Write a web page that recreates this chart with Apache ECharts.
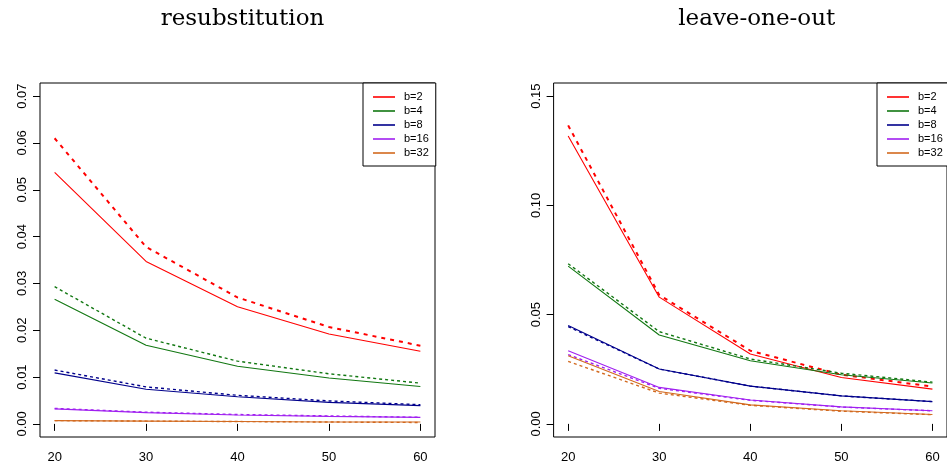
<!DOCTYPE html>
<html>
<head>
<meta charset="utf-8">
<script src="https://cdn.jsdelivr.net/npm/echarts@6/dist/echarts.min.js"></script>
<style>html,body{margin:0;padding:0;background:#fff}#chart{width:947px;height:470px}</style>
</head>
<body>
<div id="chart"></div>
<script>
// ---- data ----
const xVals = [20, 30, 40, 50, 60];
const seriesNames = ['b=2', 'b=4', 'b=8', 'b=16', 'b=32'];
const leftTitle = 'resubstitution';
const rightTitle = 'leave-one-out';
const leftYTicks = [0, 0.01, 0.02, 0.03, 0.04, 0.05, 0.06, 0.07];
const rightYTicks = [0, 0.05, 0.10, 0.15];
const xTicks = [20, 30, 40, 50, 60];

// resubstitution: solid and dashed
const resub_b2   = [0.0537, 0.0347, 0.0250, 0.0192, 0.0155];
const resub_b2d  = [0.0610, 0.0378, 0.0270, 0.0207, 0.0167];
const resub_b4   = [0.0266, 0.0168, 0.0123, 0.0098, 0.0080];
const resub_b4d  = [0.0293, 0.0183, 0.0134, 0.0107, 0.0087];
const resub_b8   = [0.0109, 0.0074, 0.0058, 0.0046, 0.0039];
const resub_b8d  = [0.0115, 0.0079, 0.0061, 0.0049, 0.0041];
const resub_b16  = [0.0032, 0.0024, 0.0019, 0.0016, 0.0014];
const resub_b16d = [0.0033, 0.0025, 0.0020, 0.0017, 0.0014];
const resub_b32  = [0.0007, 0.0006, 0.0005, 0.0004, 0.0004];
const resub_b32d = [0.0007, 0.0006, 0.0005, 0.0004, 0.0003];

// leave-one-out: solid and dashed
const loo_b2   = [0.1317, 0.0580, 0.0320, 0.0212, 0.0159];
const loo_b2d  = [0.1366, 0.0590, 0.0335, 0.0225, 0.0171];
const loo_b4   = [0.0722, 0.0407, 0.0289, 0.0225, 0.0187];
const loo_b4d  = [0.0733, 0.0422, 0.0297, 0.0232, 0.0191];
const loo_b8   = [0.0450, 0.0251, 0.0173, 0.0128, 0.0102];
const loo_b8d  = [0.0445, 0.0251, 0.0173, 0.0128, 0.0102];
const loo_b16  = [0.0335, 0.0167, 0.0109, 0.0078, 0.0060];
const loo_b16d = [0.0317, 0.0163, 0.0108, 0.0077, 0.0060];
const loo_b32  = [0.0312, 0.0148, 0.0087, 0.0060, 0.0043];
const loo_b32d = [0.0286, 0.0141, 0.0085, 0.0058, 0.0042];

// ---- styles ----
const colors = ['#FF0000', '#117711', '#00008B', '#A020F0', '#D2691E'];
const leftSolid = [resub_b2, resub_b4, resub_b8, resub_b16, resub_b32];
const leftDashed = [resub_b2d, resub_b4d, resub_b8d, resub_b16d, resub_b32d];
const rightSolid = [loo_b2, loo_b4, loo_b8, loo_b16, loo_b32];
const rightDashed = [loo_b2d, loo_b4d, loo_b8d, loo_b16d, loo_b32d];

const sans = 'Liberation Sans, Arial, sans-serif';
const serif = 'DejaVu Serif, serif';

function pairs(arr) { return xVals.map((x, i) => [x, arr[i]]); }

function makeSeries(idx, solidArr, dashedArr) {
  const out = [];
  for (let i = 0; i < seriesNames.length; i++) {
    out.push({
      type: 'line', name: seriesNames[i], xAxisIndex: idx, yAxisIndex: idx,
      data: pairs(solidArr[i]), showSymbol: false, symbol: 'none',
      color: colors[i], itemStyle: { color: colors[i] },
      lineStyle: { color: colors[i], width: 1.1 }, z: 3
    });
    out.push({
      type: 'line', name: seriesNames[i] + ' dashed', xAxisIndex: idx, yAxisIndex: idx,
      data: pairs(dashedArr[i]), showSymbol: false, symbol: 'none',
      color: colors[i], itemStyle: { color: colors[i] },
      lineStyle: { color: colors[i], width: i === 0 ? 2 : 1.4, type: i === 0 ? [4, 5] : [3, 3] }, z: 3
    });
  }
  return out;
}

function xAxisOpt(idx) {
  return {
    type: 'value', gridIndex: idx, min: 18.4, max: 61.6,
    axisLine: { show: false }, splitLine: { show: false },
    axisTick: { show: true, length: 7, customValues: xTicks, lineStyle: { color: '#000', width: 1 } },
    axisLabel: { customValues: xTicks, fontSize: 13, color: '#000', fontFamily: sans, margin: 14 }
  };
}
function yAxisOpt(idx, min, max, ticks, dec) {
  return {
    type: 'value', gridIndex: idx, min: min, max: max,
    axisLine: { show: false }, splitLine: { show: false },
    axisTick: { show: true, length: 7, customValues: ticks, lineStyle: { color: '#000', width: 1 } },
    axisLabel: { customValues: ticks, fontSize: 13, color: '#000', fontFamily: sans, margin: 11, rotate: 90,
      formatter: v => Number(v).toFixed(dec) }
  };
}
function legendOpt(left) {
  return {
    show: true, left: left, top: 83, orient: 'vertical', align: 'left',
    data: seriesNames, icon: 'rect', itemWidth: 22, itemHeight: 1.6, itemGap: 2,
    padding: [8, 7, 7, 10], borderColor: '#000', borderWidth: 1, backgroundColor: '#fff',
    selectedMode: false,
    textStyle: { fontSize: 11, fontFamily: sans, color: '#000', lineHeight: 12, padding: [0, 0, 0, 4] }
  };
}

const chart = echarts.init(document.getElementById('chart'), null, { renderer: 'canvas' });
chart.setOption({
  animation: false,
  backgroundColor: '#fff',
  title: [
    { text: leftTitle, left: 237.5, top: 3, textAlign: 'center',
      textStyle: { fontFamily: serif, fontSize: 23, fontWeight: 'normal', color: '#000' } },
    { text: rightTitle, left: 751.7, top: 3, textAlign: 'center',
      textStyle: { fontFamily: serif, fontSize: 23, fontWeight: 'normal', color: '#000' } }
  ],
  grid: [
    { left: 40, top: 83, width: 395, height: 354, show: true, borderColor: '#000', borderWidth: 1, backgroundColor: 'transparent' },
    { left: 553.6, top: 83, width: 396, height: 354, show: true, borderColor: '#000', borderWidth: 1, backgroundColor: 'transparent' }
  ],
  xAxis: [xAxisOpt(0), xAxisOpt(1)],
  yAxis: [yAxisOpt(0, -0.0028, 0.0728, leftYTicks, 2), yAxisOpt(1, -0.006, 0.156, rightYTicks, 2)],
  legend: [legendOpt(363), legendOpt(877)],
  series: makeSeries(0, leftSolid, leftDashed).concat(makeSeries(1, rightSolid, rightDashed))
});
</script>
</body>
</html>
